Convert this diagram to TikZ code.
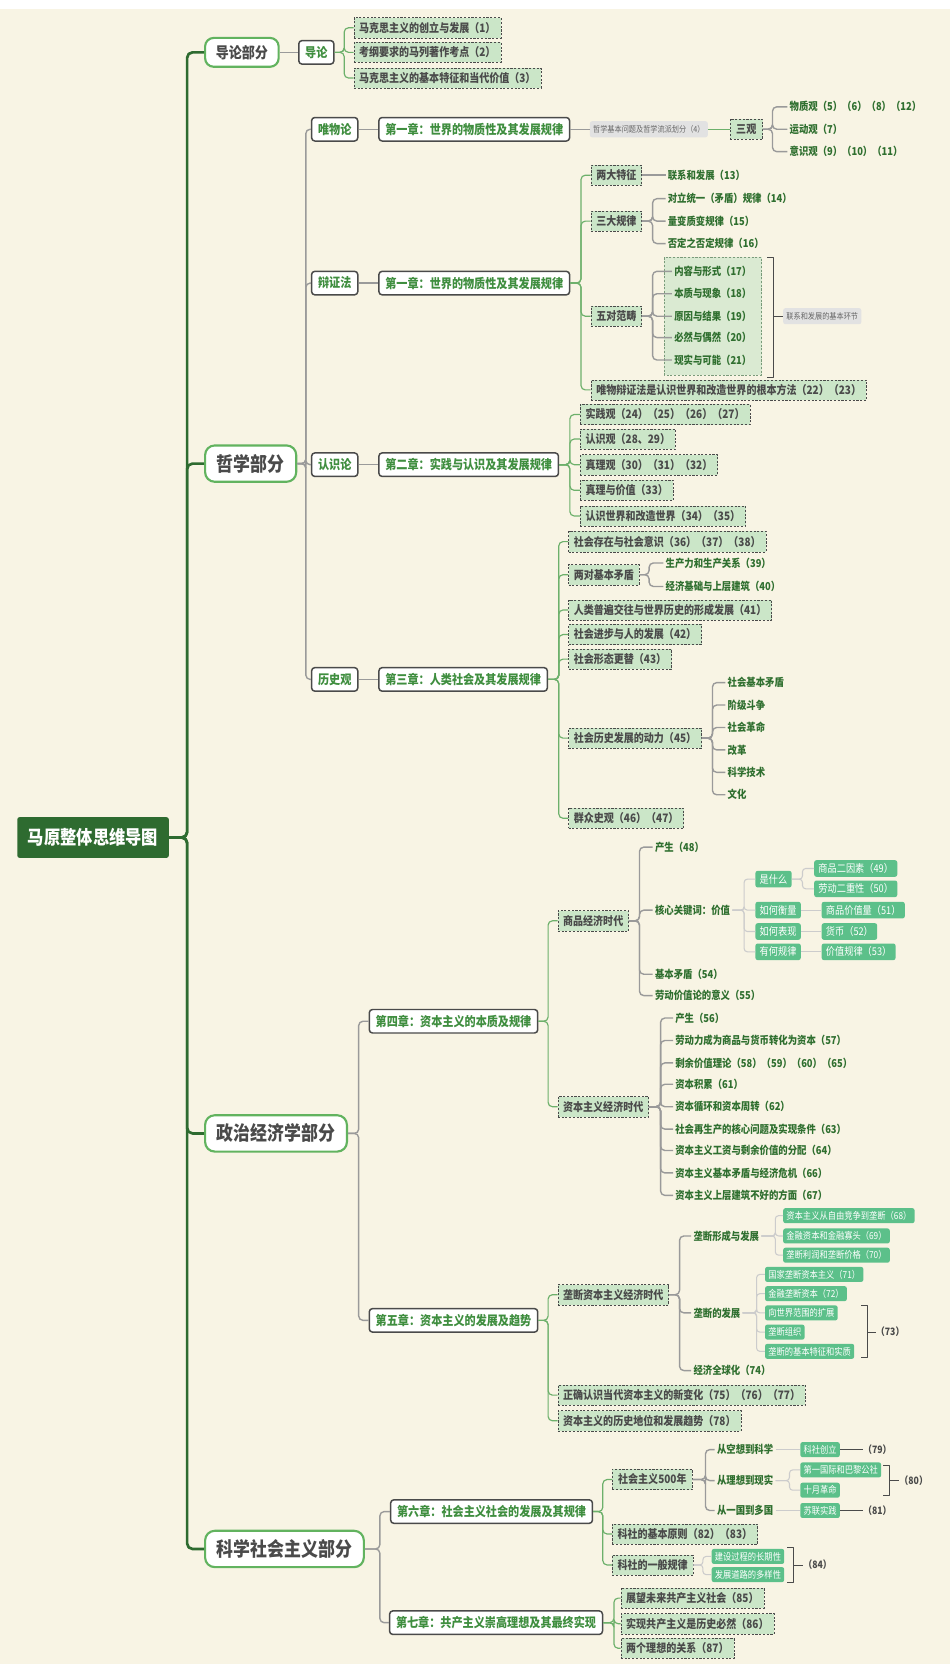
\documentclass[tikz,border=0pt]{standalone}
\usepackage{fontspec}
\setmainfont{Noto Sans CJK SC}[FakeStretch=0.86]
\definecolor{cream}{HTML}{F8F4E4}
\definecolor{rootgreen}{HTML}{2E6B30}
\definecolor{partgreen}{HTML}{62B35F}
\definecolor{darkgray}{HTML}{4A4A4A}
\definecolor{chgreen}{HTML}{3F8E3F}
\definecolor{leaffill}{HTML}{CBE6C8}
\definecolor{leafgreen}{HTML}{2F6F2F}
\definecolor{pillgreen}{HTML}{5CC08A}
\definecolor{tagfill}{HTML}{E2E2E2}
\definecolor{taggray}{HTML}{666666}
\definecolor{linegray}{HTML}{9A9A9A}
\definecolor{linegreen}{HTML}{6DB06B}
\definecolor{pillline}{HTML}{CCCCCC}
\definecolor{grpfill}{HTML}{DAEAD2}
\definecolor{grpline}{HTML}{7A9A7A}
\begin{document}
\begin{tikzpicture}[x=1pt,y=-1pt,line join=round,
  every node/.style={anchor=west},
  rootbox/.style={fill=rootgreen,text=white,rounded corners=2pt,minimum height=38pt,inner xsep=10pt,font=\bfseries\fontsize{17.7}{20}\selectfont},
  partbox/.style={draw=partgreen,line width=2pt,fill=white,rounded corners=9pt,text=darkgray,minimum height=34pt,inner xsep=11pt,font=\bfseries\fontsize{18.4}{20}\selectfont},
  secbox/.style={draw=darkgray,line width=1.4pt,fill=white,rounded corners=3pt,text=chgreen,minimum height=22pt,inner xsep=6pt,font=\bfseries\fontsize{12.1}{14}\selectfont},
  leafbox/.style={draw=darkgray,dash pattern=on 2pt off 1.5pt,fill=leaffill,text=darkgray,minimum height=19pt,inner xsep=5pt,inner ysep=0pt,font=\bfseries\fontsize{10.9}{12}\selectfont},
  leaftext/.style={text=leafgreen,inner sep=2pt,font=\bfseries\fontsize{10.2}{12}\selectfont},
  pill/.style={fill=pillgreen,text=white,rounded corners=2pt,minimum height=14pt,inner xsep=3pt,inner ysep=0pt,font=\fontsize{9}{10}\selectfont},
  bigpill/.style={minimum height=15.5pt,inner xsep=4pt,font=\fontsize{10}{11}\selectfont},
  tag/.style={fill=tagfill,text=taggray,rounded corners=2pt,minimum height=15pt,inner xsep=3pt,inner ysep=0pt,font=\fontsize{7.8}{9}\selectfont},
  note/.style={text=darkgray,inner sep=0pt,font=\bfseries\fontsize{9.5}{11}\selectfont},
  trunk/.style={draw=rootgreen,line width=2.5pt,rounded corners=5pt},
  glink/.style={draw=linegray,line width=1.3pt,rounded corners=4pt},
  vlink/.style={draw=linegreen,line width=1.1pt,rounded corners=4pt},
  plink/.style={draw=pillline,line width=1pt,rounded corners=3pt},
  bracket/.style={draw=darkgray,line width=.9pt}]
\useasboundingbox (0,0) rectangle (889,1568);
\fill[white] (0,0) rectangle (889,1568);
\fill[cream] (0,8) rectangle (889,1558);

% root and the four parts
\node[rootbox] (root) at (16,784) {马原整体思维导图};
\node[partbox,minimum height=27pt,rounded corners=8pt,inner xsep=10pt,font=\bfseries\fontsize{14.2}{16}\selectfont] (p1) at (191,49) {导论部分};
\node[partbox] (p2) at (191,434) {哲学部分};
\node[partbox] (p3) at (191,1061) {政治经济学部分};
\node[partbox] (p4) at (191,1450) {科学社会主义部分};
\foreach \p in {p1,p2,p3,p4} \draw[trunk] (root.east) -- ++(17,0) |- (\p.west);

% 导论
\node[secbox] (dl) at (279,49) {导论};
\draw[glink] (p1.east) -- (dl.west);
\foreach \y/\t [count=\i] in {26/马克思主义的创立与发展（1）,49/考纲要求的马列著作考点（2）,73/马克思主义的基本特征和当代价值（3）}{
  \node[leafbox] (dl\i) at (331,\y) {\t};
  \draw[vlink] (dl.east) -- ++(9,0) |- (dl\i.west);
}

% 哲学
\foreach \n/\m/\y/\t/\c in {wwl/c1a/121/唯物论/第一章：世界的物质性及其发展规律,
  bzf/c1b/265/辩证法/第一章：世界的物质性及其发展规律,
  rsl/c2/435/认识论/第二章：实践与认识及其发展规律,
  lsg/c3/636/历史观/第三章：人类社会及其发展规律}{
  \node[secbox] (\n) at (291,\y) {\t};
  \node[secbox] (\m) at (354,\y) {\c};
  \draw[glink] (p2.east) -- ++(8,0) |- (\n.west);
  \draw[glink] (\n.east) -- (\m.west);
}

% 唯物论
\node[tag] (q4) at (552,121) {哲学基本问题及哲学流派划分（4）};
\node[leafbox,inner xsep=6pt] (sg) at (683,121) {三观};
\draw[glink,line width=.8pt] (c1a.east) -- (q4.west);
\draw[vlink] (q4.east) -- (sg.west);
\foreach \y/\t [count=\i] in {100/物质观（5）（6）（8）（12）,121/运动观（7）,142/意识观（9）（10）（11）}{
  \node[leaftext] (sg\i) at (737,\y) {\t};
  \draw[glink] (sg.east) -- ++(9,0) |- (sg\i.west);
}

% 辩证法
\draw[grpline,dash pattern=on 2pt off 1.5pt,fill=grpfill] (622,241) rectangle (713,351);
\foreach \n/\y/\t in {tz/164/两大特征,gl/207/三大规律,fc/296/五对范畴,wbz/365/唯物辩证法是认识世界和改造世界的根本方法（22）（23）}{
  \node[leafbox] (\n) at (553,\y) {\t};
  \draw[vlink] (c1b.east) -- ++(10,0) |- (\n.west);
}
\node[leaftext] (tz1) at (623,164) {联系和发展（13）};
\draw[glink] (tz.east) -- (tz1.west);
\foreach \y/\t [count=\i] in {186/对立统一（矛盾）规律（14）,207/量变质变规律（15）,228/否定之否定规律（16）}{
  \node[leaftext] (gl\i) at (623,\y) {\t};
  \draw[glink] (gl.east) -- ++(10,0) |- (gl\i.west);
}
\foreach \y/\t [count=\i] in {254/内容与形式（17）,275/本质与现象（18）,296/原因与结果（19）,316/必然与偶然（20）,337/现实与可能（21）}{
  \node[leaftext] (fc\i) at (629,\y) {\t};
  \draw[glink] (fc.east) -- ++(10,0) |- (fc\i.west);
}
\draw[bracket] (718,241) -- (724,241) -- (724,353) -- (718,353);
\coordinate (fcbr) at (724,296);
\node[tag] (fclab) at (733,296) {联系和发展的基本环节};
\draw[bracket] (fcbr) -- (fclab.west);

% 认识论
\foreach \y/\t [count=\i] in {388/实践观（24）（25）（26）（27）,411/认识观（28、29）,435/真理观（30）（31）（32）,459/真理与价值（33）,483/认识世界和改造世界（34）（35）}{
  \node[leafbox] (rs\i) at (543,\y) {\t};
  \draw[vlink] (c2.east) -- ++(10,0) |- (rs\i.west);
}

% 历史观
\foreach \n/\y/\t in {ls1/507/社会存在与社会意识（36）（37）（38）,lsm/538/两对基本矛盾,ls2/571/人类普遍交往与世界历史的形成发展（41）,ls3/594/社会进步与人的发展（42）,ls4/617/社会形态更替（43）,dyn/691/社会历史发展的动力（45）,ls5/766/群众史观（46）（47）}{
  \node[leafbox] (\n) at (532,\y) {\t};
  \draw[vlink] (c3.east) -- ++(10,0) |- (\n.west);
}
\foreach \y/\t [count=\i] in {527/生产力和生产关系（39）,549/经济基础与上层建筑（40）}{
  \node[leaftext] (lsm\i) at (621,\y) {\t};
  \draw[glink] (lsm.east) -- ++(9,0) |- (lsm\i.west);
}
\foreach \y/\t [count=\i] in {639/社会基本矛盾,660/阶级斗争,681/社会革命,702/改革,723/科学技术,744/文化}{
  \node[leaftext] (dyn\i) at (679,\y) {\t};
  \draw[glink] (dyn.east) -- ++(10,0) |- (dyn\i.west);
}

% 政治经济学
\node[secbox] (c4) at (345,956) {第四章：资本主义的本质及规律};
\node[secbox] (c5) at (345,1236) {第五章：资本主义的发展及趋势};
\foreach \n in {c4,c5} \draw[glink] (p3.east) -- ++(10,0) |- (\n.west);
\node[leafbox] (sp) at (522,862) {商品经济时代};
\node[leafbox] (zb) at (522,1036) {资本主义经济时代};
\foreach \n in {sp,zb} \draw[vlink] (c4.east) -- ++(9,0) |- (\n.west);
\foreach \n/\y/\t in {sp1/793/产生（48）,hx/852/核心关键词：价值,sp3/912/基本矛盾（54）,sp4/932/劳动价值论的意义（55）}{
  \node[leaftext] (\n) at (611,\y) {\t};
  \draw[glink] (sp.east) -- ++(10,0) |- (\n.west);
}
\foreach \n/\y/\t in {sm/823/是什么,hl/852/如何衡量,bx/872/如何表现,gv/891/有何规律}{
  \node[pill,bigpill] (\n) at (707,\y) {\t};
  \draw[plink] (hx.east) -- ++(11,0) |- (\n.west);
}
\node[pill,bigpill] (sm1) at (762,813) {商品二因素（49）};
\node[pill,bigpill] (sm2) at (762,832) {劳动二重性（50）};
\foreach \n in {sm1,sm2} \draw[plink] (sm.east) -- ++(10,0) |- (\n.west);
\node[pill,bigpill] (hl1) at (769,852) {商品价值量（51）};
\node[pill,bigpill] (bx1) at (769,872) {货币（52）};
\node[pill,bigpill] (gv1) at (769,891) {价值规律（53）};
\draw[plink] (hl.east) -- (hl1.west);
\draw[plink] (bx.east) -- (bx1.west);
\draw[plink] (gv.east) -- (gv1.west);
\foreach \y/\t [count=\i] in {953/产生（56）,974/劳动力成为商品与货币转化为资本（57）,995/剩余价值理论（58）（59）（60）（65）,1015/资本积累（61）,1036/资本循环和资本周转（62）,1057/社会再生产的核心问题及实现条件（63）,1077/资本主义工资与剩余价值的分配（64）,1098/资本主义基本矛盾与经济危机（66）,1119/资本主义上层建筑不好的方面（67）}{
  \node[leaftext] (zb\i) at (630,\y) {\t};
  \draw[glink] (zb.east) -- ++(11,0) |- (zb\i.west);
}

% 第五章
\foreach \n/\y/\t in {ld/1212/垄断资本主义经济时代,bh/1306/正确认识当代资本主义的新变化（75）（76）（77）,dw/1330/资本主义的历史地位和发展趋势（78）}{
  \node[leafbox] (\n) at (522,\y) {\t};
  \draw[vlink] (c5.east) -- ++(9,0) |- (\n.west);
}
\foreach \n/\y/\t in {ldx/1157/垄断形成与发展,ldf/1229/垄断的发展,ld3/1283/经济全球化（74）}{
  \node[leaftext] (\n) at (647,\y) {\t};
  \draw[glink] (ld.east) -- ++(10,0) |- (\n.west);
}
\foreach \y/\t [count=\i] in {1138/资本主义从自由竞争到垄断（68）,1157/金融资本和金融寡头（69）,1175/垄断利润和垄断价格（70）}{
  \node[pill] (ldx\i) at (733,\y) {\t};
  \draw[plink] (ldx.east) -- ++(13,0) |- (ldx\i.west);
}
\foreach \y/\t [count=\i] in {1193/国家垄断资本主义（71）,1211/金融垄断资本（72）,1229/向世界范围的扩展,1247/垄断组织,1265/垄断的基本特征和实质}{
  \node[pill] (ldf\i) at (716,\y) {\t};
  \draw[plink] (ldf.east) -- ++(13,0) |- (ldf\i.west);
}
\draw[bracket] (806,1222) -- (812,1222) -- (812,1271) -- (806,1271);
\coordinate (br73) at (812,1247);
\node[note] (lab73) at (820,1247) {（73）};
\draw[bracket] (br73) -- (lab73.west);

% 科学社会主义
\node[secbox] (c6) at (365,1415) {第六章：社会主义社会的发展及其规律};
\node[secbox] (c7) at (364,1519) {第七章：共产主义崇高理想及其最终实现};
\foreach \n in {c6,c7} \draw[glink] (p4.east) -- ++(14,0) |- (\n.west);
\node[leafbox,minimum width=75pt] (sz) at (573,1385) {社会主义500年};
\node[leafbox] (yz) at (573,1436) {科社的基本原则（82）（83）};
\node[leafbox] (gl6) at (573,1465) {科社的一般规律};
\foreach \n in {sz,yz,gl6} \draw[vlink] (c6.east) -- ++(9,0) |- (\n.west);
\foreach \n/\y/\t in {kx/1357/从空想到科学,lx/1386/从理想到现实,yg/1414/从一国到多国}{
  \node[leaftext] (\n) at (669,\y) {\t};
  \draw[glink] (sz.east) -- ++(12,0) |- (\n.west);
}
\node[pill] (kx1) at (749,1357) {科社创立};
\node[pill] (lx1) at (749,1376) {第一国际和巴黎公社};
\node[pill] (lx2) at (749,1395) {十月革命};
\node[pill] (yg1) at (749,1414) {苏联实践};
\draw[plink] (kx.east) -- (kx1.west);
\foreach \n in {lx1,lx2} \draw[plink] (lx.east) -- ++(13,0) |- (\n.west);
\draw[plink] (yg.east) -- (yg1.west);
\node[note] (lab79) at (808,1357) {（79）};
\node[note] (lab81) at (808,1414) {（81）};
\draw[bracket,line width=1.2pt] (kx1.east) -- (lab79.west);
\draw[bracket,line width=1.2pt] (yg1.east) -- (lab81.west);
\draw[bracket] (827,1372) -- (833,1372) -- (833,1400) -- (827,1400);
\coordinate (br80) at (833,1386);
\node[note] (lab80) at (842,1386) {（80）};
\draw[bracket] (br80) -- (lab80.west);
\node[pill] (gl61) at (666,1457) {建设过程的长期性};
\node[pill] (gl62) at (666,1474) {发展道路的多样性};
\foreach \n in {gl61,gl62} \draw[plink] (gl6.east) -- ++(9,0) |- (\n.west);
\draw[bracket] (737,1449) -- (743,1449) -- (743,1481) -- (737,1481);
\coordinate (br84) at (743,1465);
\node[note] (lab84) at (752,1465) {（84）};
\draw[bracket] (br84) -- (lab84.west);

% 第七章
\foreach \y/\t [count=\i] in {1496/展望未来共产主义社会（85）,1520/实现共产主义是历史必然（86）,1543/两个理想的关系（87）}{
  \node[leafbox] (gc\i) at (581,\y) {\t};
  \draw[vlink] (c7.east) -- ++(10,0) |- (gc\i.west);
}
\end{tikzpicture}
\end{document}
